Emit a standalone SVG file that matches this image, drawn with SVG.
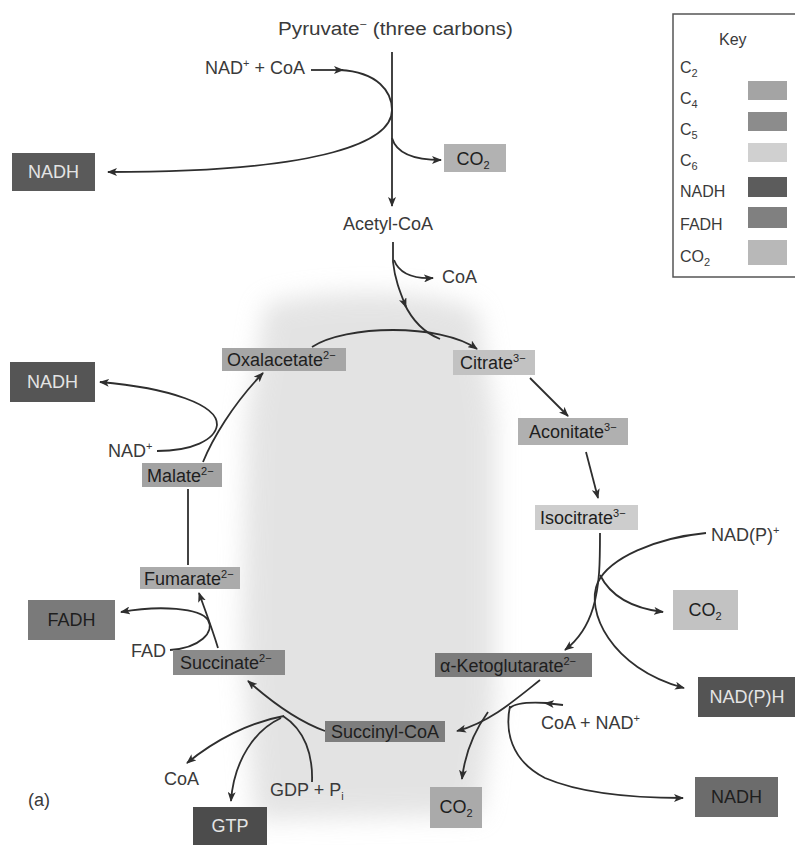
<svg xmlns="http://www.w3.org/2000/svg" width="795" height="845" viewBox="0 0 795 845">
<defs>
<marker id="ah" markerWidth="10" markerHeight="8" refX="9" refY="4" orient="auto" markerUnits="userSpaceOnUse">
<path d="M0,0 L10,4 L0,8 L2.5,4 Z" fill="#2e2e2e"/>
</marker>
<filter id="blur" x="-20%" y="-20%" width="140%" height="140%"><feGaussianBlur stdDeviation="12"/></filter>
<style>
text{font-family:"Liberation Sans",Arial,sans-serif;fill:#3a3a3a}
.lbl{font-size:18px}
.bx{font-size:18px;fill:#1e1e1e}
.lt{fill:#e4e4e4}
.key{font-size:16px}
.c path{fill:none;stroke:#2e2e2e;stroke-width:1.8}
.a{marker-end:url(#ah)}
.sup{font-size:11px}
</style>
</defs>
<rect width="795" height="845" fill="#ffffff"/>
<path d="M265,305 C320,288 440,288 478,312 L495,420 L495,700 L480,815 L255,820 L242,640 L247,420 Z" fill="#d2d2d2" opacity="0.6" filter="url(#blur)"/>

<g id="key">
<rect x="673" y="14" width="130" height="263" fill="#ffffff" stroke="#555" stroke-width="1.5"/>
<text class="key" x="719" y="45">Key</text>
<text class="key" x="680" y="73">C<tspan class="sup" dy="4">2</tspan></text>
<text class="key" x="680" y="104">C<tspan class="sup" dy="4">4</tspan></text>
<text class="key" x="680" y="135">C<tspan class="sup" dy="4">5</tspan></text>
<text class="key" x="680" y="166">C<tspan class="sup" dy="4">6</tspan></text>
<text class="key" x="680" y="197">NADH</text>
<text class="key" x="680" y="230">FADH</text>
<text class="key" x="680" y="262">CO<tspan class="sup" dy="4">2</tspan></text>
<rect x="748" y="81" width="39" height="19" fill="#a4a4a4"/>
<rect x="748" y="112" width="39" height="19" fill="#8c8c8c"/>
<rect x="748" y="143" width="39" height="19" fill="#d0d0d0"/>
<rect x="748" y="177" width="39" height="20" fill="#5c5c5c"/>
<rect x="748" y="207" width="39" height="21" fill="#808080"/>
<rect x="748" y="240" width="39" height="25" fill="#b8b8b8"/>
</g>

<g class="c" id="connectors">
<path class="a" d="M392,52 L392,206"/>
<path class="a" d="M311,70 L343,70"/>
<path class="a" d="M340,70 C378,72 392,92 392,110 C392,140 330,172 108,172"/>
<path class="a" d="M392,138 C396,152 410,160 441,160"/>
<path d="M393,242 L393,262"/>
<path class="a" d="M394,260 C399,273 412,279 433,278"/>
<path class="a" d="M393,262 C395,280 400,292 406,307"/>
<path d="M404,303 C412,320 425,333 440,339"/>
<path class="a" d="M312,347 C345,325 440,323 477,349"/>
<path class="a" d="M530,378 L568,416"/>
<path class="a" d="M586,452 L598,498"/>
<path class="a" d="M600,533 C600,560 600,585 593,608 C587,628 578,640 565,650"/>
<path class="a" d="M706,533 C655,538 610,558 598,582 C585,610 610,668 684,688"/>
<path class="a" d="M600,575 C610,595 630,608 663,612"/>
<path class="a" d="M540,680 C515,700 490,722 457,731"/>
<path class="a" d="M563,705 L545,703"/>
<path d="M547,703 C530,702 515,703 510,708"/>
<path class="a" d="M510,706 C505,730 510,760 545,778 C580,793 630,798 683,798"/>
<path class="a" d="M488,712 C475,730 465,752 462,779"/>
<path class="a" d="M325,731 C300,722 275,705 248,681"/>
<path d="M312,782 C313,755 305,730 283,716"/>
<path class="a" d="M284,716 C250,722 215,740 187,763"/>
<path class="a" d="M281,718 C255,730 234,760 231,801"/>
<path class="a" d="M218,648 C212,628 205,610 199,593"/>
<path class="a" d="M170,650 C200,648 215,632 208,620 C200,608 160,605 121,612"/>
<path d="M188,565 L188,489"/>
<path class="a" d="M203,462 C212,440 232,405 263,373"/>
<path class="a" d="M157,451 C192,451 215,440 217,425 C218,405 170,388 100,382"/>
</g>

<g id="labels">
<text class="lbl" x="278" y="35" textLength="235" lengthAdjust="spacingAndGlyphs">Pyruvate<tspan class="sup" dy="-7">−</tspan><tspan dy="7"> (three carbons)</tspan></text>
<text class="lbl" x="205" y="74">NAD<tspan class="sup" dy="-7">+</tspan><tspan dy="7"> + CoA</tspan></text>
<text class="lbl" x="343" y="230">Acetyl-CoA</text>
<text class="lbl" x="442" y="283">CoA</text>
<text class="lbl" x="108" y="457">NAD<tspan class="sup" dy="-7">+</tspan></text>
<text class="lbl" x="131" y="657">FAD</text>
<text class="lbl" x="711" y="541">NAD(P)<tspan class="sup" dy="-7">+</tspan></text>
<text class="lbl" x="541" y="729">CoA + NAD<tspan class="sup" dy="-7">+</tspan></text>
<text class="lbl" x="164" y="785">CoA</text>
<text class="lbl" x="270" y="796">GDP + P<tspan class="sup" dy="4">i</tspan></text>
<text class="lbl" x="28" y="806">(a)</text>
</g>

<g id="nadh1"><rect x="12" y="153" width="83" height="38" fill="#5a5a5a"/><text class="bx lt" x="53.5" y="178" text-anchor="middle">NADH</text></g>
<g id="co2a"><rect x="444" y="144" width="62" height="28" fill="#b2b2b2"/><text class="bx" x="473" y="165" text-anchor="middle">CO<tspan class="sup" dy="4">2</tspan></text></g>
<g id="oxalacetate"><rect x="222" y="348" width="124" height="23" fill="#a6a6a6"/><text class="bx" x="227" y="366">Oxalacetate<tspan class="sup" dy="-7">2−</tspan></text></g>
<g id="citrate"><rect x="453" y="350" width="82" height="25" fill="#c2c2c2"/><text class="bx" x="460" y="369">Citrate<tspan class="sup" dy="-7">3−</tspan></text></g>
<g id="aconitate"><rect x="518" y="418" width="110" height="27" fill="#b0b0b0"/><text class="bx" x="529" y="438">Aconitate<tspan class="sup" dy="-7">3−</tspan></text></g>
<g id="isocitrate"><rect x="535" y="505" width="103" height="25" fill="#cdcdcd"/><text class="bx" x="540" y="524">Isocitrate<tspan class="sup" dy="-7">3−</tspan></text></g>
<g id="nadh2"><rect x="10" y="362" width="85" height="40" fill="#555555"/><text class="bx lt" x="52.5" y="388" text-anchor="middle">NADH</text></g>
<g id="malate"><rect x="142" y="463" width="80" height="24" fill="#a2a2a2"/><text class="bx" x="147" y="482">Malate<tspan class="sup" dy="-7">2−</tspan></text></g>
<g id="fumarate"><rect x="140" y="567" width="100" height="22" fill="#ababab"/><text class="bx" x="144" y="585">Fumarate<tspan class="sup" dy="-7">2−</tspan></text></g>
<g id="fadh"><rect x="28" y="600" width="87" height="40" fill="#7a7a7a"/><text class="bx" x="71.5" y="626" text-anchor="middle">FADH</text></g>
<g id="succinate"><rect x="173" y="650" width="112" height="25" fill="#8a8a8a"/><text class="bx" x="180" y="669">Succinate<tspan class="sup" dy="-7">2−</tspan></text></g>
<g id="co2b"><rect x="673" y="590" width="65" height="40" fill="#c2c2c2"/><text class="bx" x="705" y="616" text-anchor="middle">CO<tspan class="sup" dy="4">2</tspan></text></g>
<g id="akg"><rect x="435" y="653" width="157" height="24" fill="#7c7c7c"/><text class="bx" x="440" y="672">α-Ketoglutarate<tspan class="sup" dy="-7">2−</tspan></text></g>
<g id="nadph"><rect x="698" y="677" width="97" height="40" fill="#545454"/><text class="bx lt" x="747" y="703" text-anchor="middle">NAD(P)H</text></g>
<g id="succinylcoa"><rect x="325" y="721" width="120" height="21" fill="#7e7e7e"/><text class="bx" x="385" y="738" text-anchor="middle">Succinyl-CoA</text></g>
<g id="co2c"><rect x="430" y="787" width="52" height="41" fill="#aaaaaa"/><text class="bx" x="456" y="813" text-anchor="middle">CO<tspan class="sup" dy="4">2</tspan></text></g>
<g id="nadh3"><rect x="695" y="777" width="83" height="40" fill="#6c6c6c"/><text class="bx" x="736.5" y="803" text-anchor="middle">NADH</text></g>
<g id="gtp"><rect x="193" y="807" width="74" height="38" fill="#4c4c4c"/><text class="bx lt" x="230" y="832" text-anchor="middle">GTP</text></g>
</svg>
